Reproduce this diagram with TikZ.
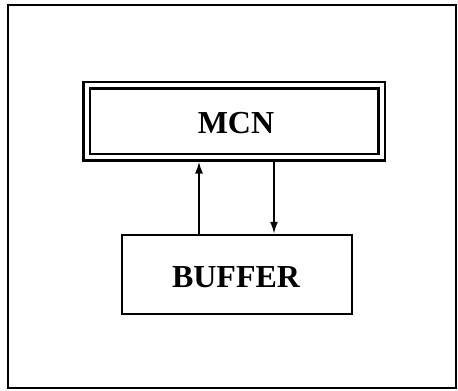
\documentclass[tikz,border=0pt]{standalone}
\usepackage{fontspec}
\setmainfont{Liberation Serif}
\usetikzlibrary{arrows.meta}
\begin{document}
\begin{tikzpicture}[x=1pt,y=-1pt,
  box/.style={draw,line width=2.4pt,minimum width=230pt,minimum height=79pt,inner sep=0pt},
  dblbox/.style={draw,line width=2.5pt,minimum width=295pt,minimum height=72pt,inner sep=0pt,
    double distance=4pt,outer sep=4.5pt},
  lbl/.style={font=\fontsize{32}{34}\selectfont\bfseries},
  link/.style={line width=2pt,-{Latex[length=12pt,width=8pt]}}]
  \useasboundingbox (0,0) rectangle (458,391);
  % outer frame
  \draw[line width=1.5pt] (8,5) rectangle (456,388);
  % memory controller node (double-ruled box)
  \node[dblbox] (mcn) at (234,121) {};
  \node[lbl] (mcnt) at (236,123) {MCN};
  % buffer box
  \node[box] (buf) at (237,274.5) {};
  \node[lbl] (buft) at (236,277) {BUFFER};
  % connections
  \draw[link] (buf.north -| 199,0) -- (mcn.south -| 199,0);
  \draw[link] (mcn.south -| 274,0) -- (buf.north -| 274,0);
\end{tikzpicture}
\end{document}
